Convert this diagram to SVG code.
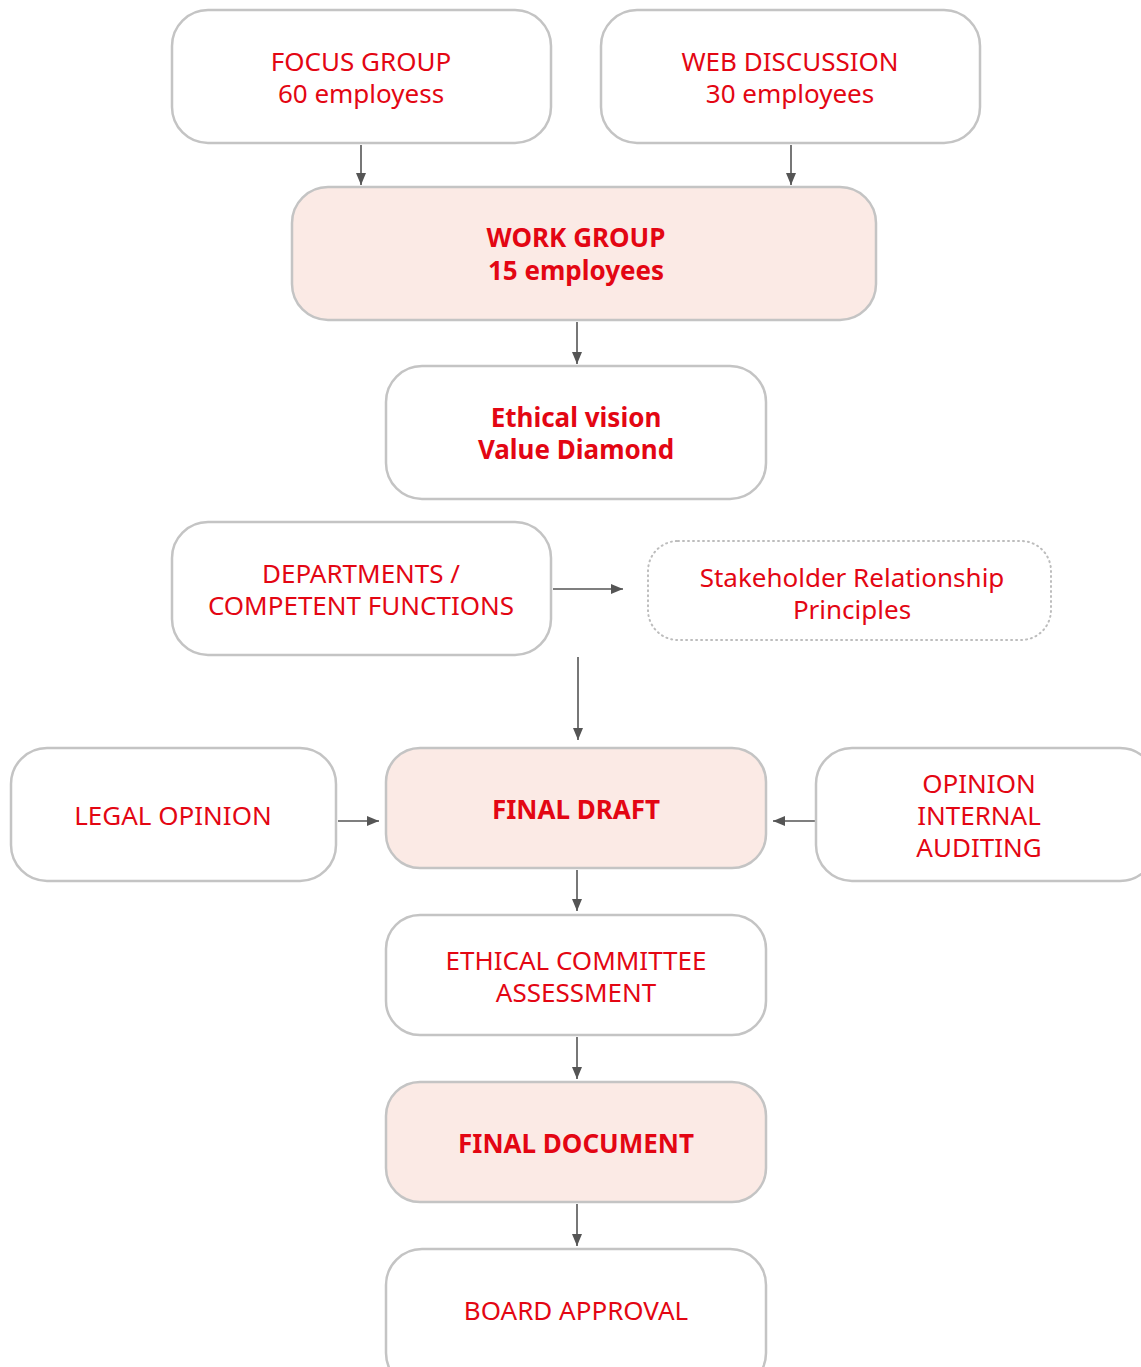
<svg xmlns="http://www.w3.org/2000/svg" width="1141" height="1367" viewBox="0 0 1141 1367">
<defs>
<style>
.box{fill:#ffffff;stroke:#c4c4c4;stroke-width:2.5}
.hl{fill:#fbeae5;stroke:#c4c4c4;stroke-width:2.5}
.dot{fill:#ffffff;stroke:#bdbdbd;stroke-width:2;stroke-dasharray:1 4;stroke-linecap:round}
.t{font-family:"Noto Sans","Open Sans","DejaVu Sans",sans-serif;font-size:26px;fill:#e30613;text-anchor:middle}
.b{font-weight:bold}
.c{stroke:#555555;stroke-width:1.6;fill:none;marker-end:url(#ah)}
</style>
<marker id="ah" viewBox="0 0 12 10" refX="12" refY="5" markerWidth="12" markerHeight="10" markerUnits="userSpaceOnUse" orient="auto">
<path d="M0,0 L12,5 L0,10 z" fill="#555555"/>
</marker>
</defs>
<rect width="1141" height="1367" fill="#ffffff"/>
<g id="connectors">
<line class="c" x1="361" y1="145" x2="361" y2="185"/>
<line class="c" x1="791" y1="145" x2="791" y2="185"/>
<line class="c" x1="577" y1="322" x2="577" y2="364"/>
<line class="c" x1="553" y1="589" x2="623" y2="589"/>
<line class="c" x1="578" y1="657" x2="578" y2="740"/>
<line class="c" x1="338" y1="821" x2="379" y2="821"/>
<line class="c" x1="815" y1="821" x2="773" y2="821"/>
<line class="c" x1="577" y1="870" x2="577" y2="911"/>
<line class="c" x1="577" y1="1037" x2="577" y2="1079"/>
<line class="c" x1="577" y1="1204" x2="577" y2="1246"/>
</g>
<g id="focus-group">
<rect class="box" x="172" y="10" width="379" height="133" rx="36"/>
<text class="t" x="361" y="71">FOCUS GROUP</text>
<text class="t" x="361" y="103">60 employess</text>
</g>
<g id="web-discussion">
<rect class="box" x="601" y="10" width="379" height="133" rx="36"/>
<text class="t" x="790" y="71">WEB DISCUSSION</text>
<text class="t" x="790" y="103">30 employees</text>
</g>
<g id="work-group">
<rect class="hl" x="292" y="187" width="584" height="133" rx="36"/>
<text class="t b" x="576" y="247">WORK GROUP</text>
<text class="t b" x="576" y="280">15 employees</text>
</g>
<g id="ethical-vision">
<rect class="box" x="386" y="366" width="380" height="133" rx="36"/>
<text class="t b" x="576" y="427">Ethical vision</text>
<text class="t b" x="576" y="459">Value Diamond</text>
</g>
<g id="departments">
<rect class="box" x="172" y="522" width="379" height="133" rx="36"/>
<text class="t" x="361" y="583">DEPARTMENTS /</text>
<text class="t" x="361" y="615">COMPETENT FUNCTIONS</text>
</g>
<g id="stakeholder">
<rect class="dot" x="648" y="541" width="403" height="99" rx="30"/>
<text class="t" x="852" y="587">Stakeholder Relationship</text>
<text class="t" x="852" y="619">Principles</text>
</g>
<g id="legal-opinion">
<rect class="box" x="11" y="748" width="325" height="133" rx="36"/>
<text class="t" x="173" y="825">LEGAL OPINION</text>
</g>
<g id="final-draft">
<rect class="hl" x="386" y="748" width="380" height="120" rx="34"/>
<text class="t b" x="576" y="819">FINAL DRAFT</text>
</g>
<g id="opinion-internal-auditing">
<rect class="box" x="816" y="748" width="340" height="133" rx="36"/>
<text class="t" x="979" y="793">OPINION</text>
<text class="t" x="979" y="825">INTERNAL</text>
<text class="t" x="979" y="857">AUDITING</text>
</g>
<g id="ethical-committee">
<rect class="box" x="386" y="915" width="380" height="120" rx="34"/>
<text class="t" x="576" y="970">ETHICAL COMMITTEE</text>
<text class="t" x="576" y="1002">ASSESSMENT</text>
</g>
<g id="final-document">
<rect class="hl" x="386" y="1082" width="380" height="120" rx="34"/>
<text class="t b" x="576" y="1153">FINAL DOCUMENT</text>
</g>
<g id="board-approval">
<rect class="box" x="386" y="1249" width="380" height="140" rx="36"/>
<text class="t" x="576" y="1320">BOARD APPROVAL</text>
</g>
</svg>
